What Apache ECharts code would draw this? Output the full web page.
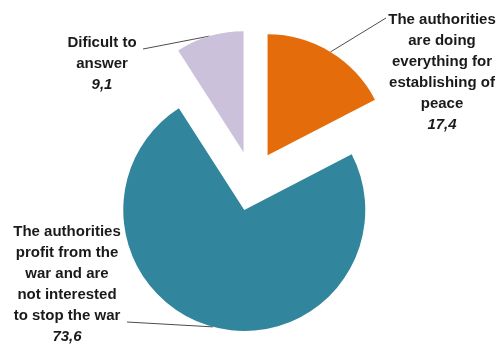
<!DOCTYPE html>
<html>
<head>
<meta charset="utf-8">
<script src="https://cdn.jsdelivr.net/npm/echarts@6/dist/echarts.min.js"></script>
<style>
html,body{margin:0;padding:0;background:#fff;}
#chart{width:497px;height:345px;}
</style>
</head>
<body>
<div id="chart"></div>
<script>
const categories = [
  'The authorities\nare doing\neverything for\nestablishing of\npeace',
  'The authorities\nprofit from the\nwar and are\nnot interested\nto stop the war',
  'Dificult to\nanswer'
];
const values = [17.4, 73.6, 9.1];
const colors = ['#E46C0A', '#31859C', '#CCC1DA'];

// style / layout settings
const baseCenter = [252, 181];
const pieRadius = 121;
const explode = 30;
const labelPos = [[442, 9.5], [67, 221.5], [102, 32.5]];
const lineEnd = [[386, 18], [127, 322], [143, 49]];

const total = values.reduce((a, b) => a + b, 0);
let cum = 0;
const midAngles = values.map(v => { const m = (cum + v / 2) / total * 2 * Math.PI; cum += v; return m; });

const series = values.map((_, k) => ({
  type: 'pie',
  center: [baseCenter[0] + explode * Math.sin(midAngles[k]), baseCenter[1] - explode * Math.cos(midAngles[k])],
  radius: pieRadius,
  startAngle: 90,
  clockwise: true,
  silent: true,
  avoidLabelOverlap: false,
  data: categories.map((c, i) => ({
    name: c,
    value: values[i],
    itemStyle: {color: i === k ? colors[i] : 'rgba(0,0,0,0)', borderWidth: 0},
    label: {show: i === k},
    labelLine: {show: i === k}
  })),
  label: {
    position: 'outside',
    formatter: p => p.name + '\n{v|' + String(p.value).replace('.', ',') + '}',
    fontFamily: 'Liberation Sans',
    fontWeight: 'bold',
    fontSize: 15,
    lineHeight: 21,
    color: '#1a1a1a',
    align: 'center',
    rich: {
      v: {fontStyle: 'italic', fontWeight: 'bold', fontSize: 15, lineHeight: 21, color: '#1a1a1a', fontFamily: 'Liberation Sans'}
    }
  },
  labelLine: {
    length: 10,
    length2: 10,
    lineStyle: {color: '#4d4d4d', width: 1}
  },
  labelLayout: function (params) {
    const i = params.dataIndex;
    if (i !== k) return {};
    const p = params.labelLinePoints;
    return {
      x: labelPos[i][0],
      y: labelPos[i][1],
      align: 'center',
      verticalAlign: 'top',
      labelLinePoints: [p[0], lineEnd[i], lineEnd[i]]
    };
  },
  emphasis: {disabled: true}
}));

const chart = echarts.init(document.getElementById('chart'), null, {renderer: 'canvas'});
chart.setOption({
  animation: false,
  backgroundColor: '#ffffff',
  series: series
});
</script>
</body>
</html>
